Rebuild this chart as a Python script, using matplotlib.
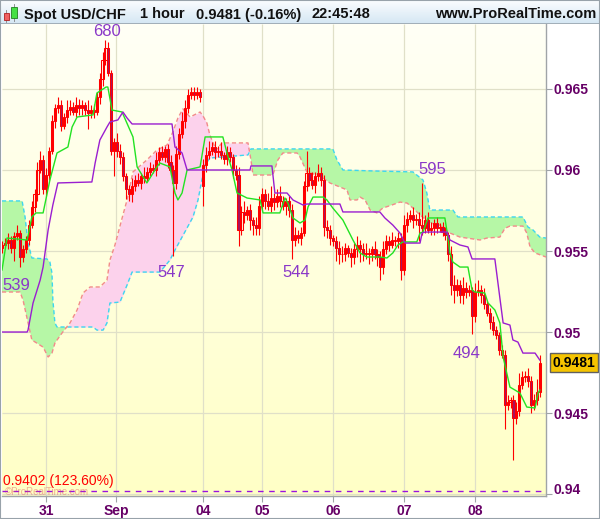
import numpy as np
import matplotlib
matplotlib.use("Agg")
import matplotlib.pyplot as plt
from matplotlib.patches import Rectangle
from matplotlib.colors import LinearSegmentedColormap
from matplotlib.transforms import ScaledTranslation

plt.rcParams['font.family'] = ['Liberation Sans', 'DejaVu Sans']

# ---------------- data (hourly bars, USD/CHF) ----------------
closes = [
    0.9554, 0.9555, 0.9557, 0.9552, 0.9559, 0.9561, 0.9546, 0.9551, 0.9557, 0.9566,
    0.9577, 0.9585, 0.9600, 0.9606, 0.9588, 0.9597, 0.9612, 0.9630, 0.9638, 0.9640,
    0.9627, 0.9633, 0.9637, 0.9639, 0.9636, 0.9640, 0.9638, 0.9640, 0.9637, 0.9635,
    0.9637, 0.9636, 0.9645, 0.9656, 0.9668, 0.9675, 0.9660, 0.9612, 0.9617, 0.9612,
    0.9608, 0.9596, 0.9588, 0.9585, 0.9590, 0.9594, 0.9592, 0.9596, 0.9595, 0.9599,
    0.9601, 0.9600, 0.9606, 0.9611, 0.9608, 0.9613, 0.9605, 0.9600, 0.9592, 0.9610,
    0.9622, 0.9630, 0.9638, 0.9646, 0.9648, 0.9646, 0.9648, 0.9645, 0.9603, 0.9609,
    0.9612, 0.9614, 0.9611, 0.9612, 0.9609, 0.9607, 0.9611, 0.9608, 0.9600, 0.9597,
    0.9563, 0.9574, 0.9572, 0.9575, 0.9569, 0.9566, 0.9564, 0.9578, 0.9585, 0.9581,
    0.9578, 0.9583, 0.9580, 0.9584, 0.9581, 0.9578, 0.9581, 0.9575, 0.9557, 0.9560,
    0.9558, 0.9561, 0.9590, 0.9598, 0.9594, 0.9591, 0.9596, 0.9598, 0.9594, 0.9565,
    0.9563, 0.9558, 0.9556, 0.9552, 0.9548, 0.9548, 0.9552, 0.9549, 0.9546, 0.9551,
    0.9554, 0.9551, 0.9548, 0.9549, 0.9548, 0.9551, 0.9548, 0.9546, 0.9540, 0.9551,
    0.9556, 0.9554, 0.9557, 0.9556, 0.9558, 0.9538, 0.9566, 0.9570, 0.9572, 0.9569,
    0.9570, 0.9566, 0.9564, 0.9569, 0.9563, 0.9564, 0.9567, 0.9564, 0.9565, 0.9562,
    0.9560, 0.9548, 0.9529, 0.9526, 0.9529, 0.9523, 0.9527, 0.9525, 0.9526, 0.9510,
    0.9525, 0.9526, 0.9523, 0.9517, 0.9512, 0.9506, 0.9501, 0.9498, 0.9489, 0.9486,
    0.9455, 0.9457, 0.9458, 0.9447, 0.9451, 0.9467, 0.9472, 0.9473, 0.9470, 0.9455,
    0.9458, 0.9463, 0.9481,
]
# opens equal the previous close except at these bars (session gaps)
gap_opens = {0: 0.9552, 68: 0.9590}
# wick lengths beyond the body, in pips (0.0001)
wick_up_pips = [
    2, 3, 4, 2, 3, 5, 2, 3, 2, 3,   4, 3, 5, 6, 3, 4, 2, 4, 3, 5,
    3, 2, 6, 4, 3, 5, 4, 3, 2, 6,   3, 4, 3, 4, 5, 5, 4, 2, 3, 6,
    4, 3, 2, 3, 5, 3, 4, 2, 6, 3,   4, 3, 5, 3, 4, 2, 3, 4, 3, 5,
    4, 6, 5, 4, 3, 3, 3, 2, 4, 5,   6, 3, 4, 3, 5, 2, 4, 3, 2, 3,
    5, 4, 7, 3, 4, 2, 5, 6, 4, 3,   5, 7, 3, 4, 6, 3, 2, 3, 4, 5,
    3, 4, 3, 14, 4, 5, 3, 6, 4, 3,  4, 3, 2, 3, 4, 5, 3, 2, 3, 4,
    5, 3, 4, 6, 3, 2, 5, 3, 4, 5,   4, 3, 5, 2, 4, 3, 6, 4, 3, 5,
    3, 4, 26, 3, 5, 4, 3, 4, 2, 3,  3, 2, 5, 6, 4, 3, 7, 4, 3, 2,
    5, 6, 3, 4, 2, 3, 4, 3, 2, 3,   3, 4, 2, 3, 6, 8, 4, 3, 5, 3,
    4, 8, 5,
]
wick_dn_pips = [
    3, 2, 4, 3, 8, 2, 6, 3, 2, 3,   2, 3, 4, 2, 3, 4, 3, 2, 4, 3,
    3, 2, 4, 3, 2, 3, 4, 4, 3, 10,  3, 4, 2, 4, 4, 3, 2, 3, 16, 4,
    4, 3, 6, 4, 5, 3, 2, 4, 3, 2,   3, 2, 4, 3, 2, 3, 4, 3, 45, 4,
    3, 2, 4, 3, 2, 3, 2, 3, 12, 4,  2, 3, 4, 3, 2, 3, 4, 3, 5, 3,
    10, 3, 5, 3, 6, 6, 4, 4, 3, 5,  3, 4, 5, 3, 4, 3, 6, 4, 12, 4,
    3, 4, 2, 3, 4, 3, 5, 3, 4, 6,   5, 4, 3, 8, 6, 5, 4, 3, 6, 4,
    5, 8, 4, 3, 6, 4, 3, 5, 8, 4,   3, 4, 2, 3, 4, 6, 3, 4, 2, 5,
    3, 10, 4, 3, 2, 3, 4, 3, 2, 3,  3, 4, 6, 8, 4, 5, 6, 4, 3, 11,
    4, 3, 5, 3, 2, 4, 3, 2, 3, 2,   15, 3, 4, 26, 4, 3, 2, 3, 4, 5,
    3, 3, 3,
]

# Ichimoku lines, read as (bar, price) breakpoints
tenkan_bar = [0, 1.7, 8.5, 10.1, 11.5, 13.9, 16.2, 18.6, 22.3, 23.7, 25.4, 30.8, 32.1, 35.2, 35.8,
              37.2, 40.6, 44.3, 45.7, 49.0, 52.4, 53.4, 56.8, 58.5, 59.5, 60.9, 62.6, 67.0, 68.7,
              74.7, 76.1, 77.8, 79.5, 82.9, 87.3, 88.3, 94.0, 95.7, 96.7, 98.4, 100.8, 102.5, 103.5,
              105.2, 108.6, 109.9, 111.9, 115.3, 118.7, 121.1, 123.4, 127.8, 130.2, 132.2, 133.9,
              135.6, 140.3, 141.4, 142.4, 144.1, 149.8, 150.8, 151.5, 152.5, 154.9, 157.6, 159.0,
              160.0, 163.3, 164.4, 166.7, 168.4, 169.5, 171.8, 173.5, 175.2, 177.5, 180.3, 181.3, 181.9]
tenkan_val = [0.95383, 0.9558, 0.95568, 0.9571, 0.95735, 0.95735, 0.95938, 0.96105, 0.96142, 0.96265,
              0.96327, 0.9634, 0.96475, 0.96512, 0.96512, 0.9637, 0.96358, 0.96204, 0.96019, 0.9592,
              0.96019, 0.96043, 0.96019, 0.95858, 0.95815, 0.95858, 0.96, 0.96019, 0.96204, 0.96204,
              0.96105, 0.96, 0.95858, 0.95827, 0.95815, 0.95735, 0.95735, 0.95827, 0.95796, 0.95704,
              0.95673, 0.95691, 0.95772, 0.95833, 0.95833, 0.95815, 0.95765, 0.95691, 0.95568, 0.95488,
              0.95463, 0.95463, 0.95457, 0.95488, 0.95537, 0.95556, 0.95556, 0.95611, 0.95617, 0.95704,
              0.95704, 0.95586, 0.95488, 0.95432, 0.95401, 0.95401, 0.95259, 0.95247, 0.95241, 0.95179,
              0.95136, 0.95056, 0.94846, 0.9466, 0.94642, 0.94623, 0.94537, 0.94531, 0.94623, 0.94642]

kijun_bar = [0, 8.5, 8.8, 10.5, 12.9, 13.9, 15.6, 17.2, 18.9, 30.4, 31.5, 33.1, 35.5, 36.5, 39.2, 40.9,
             42.3, 44.0, 57.5, 58.5, 60.9, 62.6, 83.9, 84.2, 91.3, 92.3, 96.4, 98.4, 101.8, 103.1,
             114.3, 115.3, 127.8, 129.5, 132.2, 134.6, 136.3, 141.4, 142.1, 143.1, 150.5, 151.5,
             154.9, 157.6, 159.0, 166.7, 168.4, 169.5, 171.8, 172.8, 174.5, 176.2, 180.3, 181.9]
kijun_val = [0.95, 0.95, 0.95012, 0.95179, 0.9532, 0.95401, 0.9563, 0.95784, 0.9592, 0.95926, 0.96043,
             0.96185, 0.96265, 0.96296, 0.96309, 0.96358, 0.96321, 0.96284, 0.96284, 0.96142, 0.96105,
             0.96, 0.96, 0.96025, 0.96025, 0.95858, 0.95858, 0.95815, 0.95784, 0.9579, 0.9579, 0.95741,
             0.95741, 0.95704, 0.9566, 0.95611, 0.95549, 0.95549, 0.95611, 0.95617, 0.95617, 0.95568,
             0.95537, 0.95525, 0.95451, 0.95451, 0.9521, 0.95056, 0.95043, 0.94951, 0.94938, 0.9487,
             0.9487, 0.94827]

span_a_bar = [0, 6.8, 7.8, 8.8, 10.1, 15.2, 16.2, 16.9, 17.2, 17.9, 18.6, 30.8, 32.1, 34.2, 35.5, 36.5,
              39.9, 42.3, 44.0, 53.4, 56.8, 58.5, 60.9, 64.6, 66.3, 67.6, 68.7, 70.3, 83.2, 84.2, 111.9,
              113.3, 115.3, 125.5, 139.0, 142.4, 143.7, 144.7, 152.5, 154.2, 176.2, 177.9, 179.6, 181.9, 184]
span_a_val = [0.95809, 0.95809, 0.9571, 0.95549, 0.95457, 0.95451, 0.95432, 0.95364, 0.95198, 0.95056,
              0.95031, 0.95031, 0.95012, 0.95012, 0.95056, 0.95179, 0.95185, 0.9529, 0.9537, 0.9537,
              0.95444, 0.95506, 0.95586, 0.9571, 0.95815, 0.95938, 0.96031, 0.96074, 0.96093, 0.9613,
              0.9613, 0.96062, 0.96, 0.95994, 0.95988, 0.95938, 0.95858, 0.95753, 0.95753, 0.9571,
              0.9571, 0.95648, 0.9563, 0.95586, 0.9558]

span_b_bar = [0, 6.1, 7.1, 10.1, 13.9, 15.6, 16.9, 17.9, 20.3, 23.0, 25.4, 27.4, 29.8, 33.1, 35.5, 36.5,
              38.2, 40.9, 42.3, 44.3, 49.0, 52.4, 55.8, 57.8, 59.5, 61.2, 63.6, 67.0, 68.0, 69.3, 70.3,
              72.4, 74.4, 83.2, 84.2, 84.9, 91.6, 93.3, 95.0, 99.8, 100.8, 103.1, 106.5, 108.6, 110.9,
              114.3, 116.7, 117.7, 120.1, 121.1, 122.8, 124.5, 126.8, 128.8, 131.9, 134.6, 137.0, 139.0,
              141.4, 144.7, 148.1, 151.5, 154.9, 161.7, 164.0, 168.4, 170.1, 171.8, 176.2, 177.5, 178.6,
              180.3, 184]
span_b_val = [0.95247, 0.95247, 0.95198, 0.94951, 0.94907, 0.94846, 0.9487, 0.94932, 0.94994, 0.95056,
              0.95136, 0.95241, 0.95278, 0.95278, 0.9532, 0.95444, 0.95537, 0.95722, 0.95815, 0.95988,
              0.96062, 0.96123, 0.96154, 0.96235, 0.96321, 0.96377, 0.96327, 0.96358, 0.96333, 0.9629,
              0.96216, 0.96123, 0.96167, 0.96167, 0.96062, 0.95969, 0.95969, 0.96062, 0.96105, 0.96105,
              0.9608, 0.95988, 0.95969, 0.95951, 0.9592, 0.95895, 0.95877, 0.95815, 0.95815, 0.95833,
              0.95815, 0.95753, 0.95735, 0.95765, 0.95784, 0.95802, 0.95796, 0.95765, 0.95722, 0.95673,
              0.9566, 0.95611, 0.95586, 0.95568, 0.9558, 0.95586, 0.9564, 0.95654, 0.95654, 0.95611,
              0.95525, 0.95488, 0.95463]

extreme_labels = ["680", "539", "547", "544", "595", "494"]
extreme_bar = [35.5, 4.7, 57.2, 99.4, 145.4, 157.3]
extreme_price = [0.96852, 0.9529, 0.9537, 0.9537, 0.9600, 0.9487]

day_bars = [14.9, 38.6, 68.0, 87.9, 111.9, 136.0, 160.0]
day_labels = ["31", "Sep", "04", "05", "06", "07", "08"]
price_ticks = [0.94, 0.945, 0.95, 0.955, 0.96, 0.965]
price_labels = ["0.94", "0.945", "0.95", "0.955", "0.96", "0.965"]
level_price = 0.9402
level_text = "0.9402 (123.60%)"
last_price = 0.9481
title_parts = [("Spot USD/CHF", 24), ("1 hour", 140), ("0.9481 (-0.16%)", 196), ("22:45:48", 312)]

# ---------------- derived OHLC ----------------
n = len(closes)
opens = [gap_opens.get(i, closes[i - 1] if i > 0 else closes[0]) for i in range(n)]
highs = [max(o, c) + u * 1e-4 for o, c, u in zip(opens, closes, wick_up_pips)]
lows = [min(o, c) - d * 1e-4 for o, c, d in zip(opens, closes, wick_dn_pips)]

# ---------------- figure ----------------
W, H = 600, 519
fig = plt.figure(figsize=(W / 100, H / 100), dpi=100)
fig.patch.set_facecolor("white")

L, R, T, B = 2, 546, 24, 496
X0, X1 = 0, 184
Y0, Y1 = 0.93988, 0.96901
ax = fig.add_axes([L / W, (H - B) / H, (R - L) / W, (B - T) / H])
ax.set_xlim(X0, X1)
ax.set_ylim(Y0, Y1)

bg = LinearSegmentedColormap.from_list("bg", ["#fffff6", "#ffffc6"])
ax.imshow(np.linspace(0, 1, 256).reshape(-1, 1), cmap=bg, extent=[X0, X1, Y0, Y1],
          origin="upper", aspect="auto", zorder=0)

grid_c = "#e0e0c8"
ax.hlines(price_ticks, X0, X1, color=grid_c, lw=0.9, zorder=1)
ax.vlines(day_bars, Y0, Y1, color=grid_c, lw=0.9, zorder=1)

# cloud
xs = np.linspace(X0, X1, 3000)
sa = np.interp(xs, span_a_bar, span_a_val)
sb = np.interp(xs, span_b_bar, span_b_val)
ax.fill_between(xs, sa, sb, where=sa >= sb, interpolate=True, color="#b6f7a6", lw=0, zorder=2)
ax.fill_between(xs, sa, sb, where=sa < sb, interpolate=True, color="#fcd2ec", lw=0, zorder=2)
ax.plot(span_a_bar, span_a_val, color="#3cd6f0", lw=1.0, ls=(0, (3, 2)), zorder=3)
ax.plot(span_b_bar, span_b_val, color="#f28a8a", lw=1.0, ls=(0, (3, 2)), zorder=3)

# candles
red = "#ff0000"
xi = np.arange(n)
ax.vlines(xi, lows, highs, color=red, lw=0.8, zorder=4)
for i in range(n):
    o, c = opens[i], closes[i]
    h = max(abs(c - o), 0.00003)
    fc = "#a8125e" if c < o else "none"
    ax.add_patch(Rectangle((i - 0.36, min(o, c)), 0.72, h, facecolor=fc, edgecolor=red,
                           lw=0.75, zorder=5))

ax.plot(tenkan_bar, tenkan_val, color="#22e222", lw=1.0, zorder=6)
ax.plot(kijun_bar, kijun_val, color="#9a1ed0", lw=1.0, zorder=6)

ax.axhline(level_price, color="#9a10e0", lw=1.0, ls=(0, (4, 4)), zorder=6)
ax.text(0.2, 0.94080, level_text, color="#ff0000", fontsize=10, ha="left", va="center", zorder=7)
ax.text(1.0, 0.94012, "\u00a9ProRealTime.com", color="#e05050", alpha=0.45, fontsize=7,
        ha="left", va="center", zorder=7)

for t, xb, yp in zip(extreme_labels, extreme_bar, extreme_price):
    ax.text(xb, yp, t, color="#8a38c8", fontsize=12, ha="center", va="center", zorder=7)

# axes styling
for s in ["left", "top"]:
    ax.spines[s].set_visible(False)
for s in ["right", "bottom"]:
    ax.spines[s].set_color("#a0a4a8")
    ax.spines[s].set_linewidth(1.0)
ax.yaxis.tick_right()
ax.set_yticks(price_ticks)
ax.set_yticklabels(price_labels)
ax.set_xticks(day_bars)
ax.set_xticklabels(day_labels)
ax.tick_params(axis="y", length=4, width=0.8, color="#a0a4a8", pad=1.5,
               labelsize=10, labelcolor="#660066")
ax.tick_params(axis="x", length=4, width=0.8, color="#a0a4a8", pad=2,
               labelsize=10, labelcolor="#660066")
for lbl in ax.get_yticklabels() + ax.get_xticklabels():
    lbl.set_fontweight("bold")
ylbls = ax.get_yticklabels()
ylbls[0].set_transform(ylbls[0].get_transform() + ScaledTranslation(0, 6 / 100, fig.dpi_scale_trans))

# last price box
ax.annotate(f"{last_price:.4f}", xy=(1, last_price), xycoords=("axes fraction", "data"),
            xytext=(28, 0), textcoords="offset pixels", ha="center", va="center",
            fontsize=10, fontweight="bold", color="black", annotation_clip=False,
            bbox=dict(boxstyle="square,pad=0.17", fc="#f5c400", ec="#606060", lw=1.0))

# title bar
tax = fig.add_axes([0, (H - 24) / H, 1, 24 / H])
tax.set_xlim(0, W)
tax.set_ylim(24, 0)
tax.axis("off")
tb = LinearSegmentedColormap.from_list("tb", ["#fbfdff", "#d4e6f3"])
tax.imshow(np.linspace(0, 1, 64).reshape(-1, 1), cmap=tb, extent=[0, W, 24, 0],
           origin="upper", aspect="auto", zorder=0)
tax.axhline(23.5, color="#98a4ae", lw=1.2, zorder=1)
tax.add_patch(Rectangle((3.5, 12.5), 5, 7, fc="#f06060", ec="#b02020", lw=0.6, zorder=2))
tax.plot([6, 6], [10, 22], color="#808080", lw=0.6, zorder=1)
tax.add_patch(Rectangle((11, 7), 6, 11, fc="#44e044", ec="#208020", lw=0.6, zorder=2))
tax.plot([14, 14], [4, 21], color="#808080", lw=0.6, zorder=1)
for txt, xp in title_parts:
    tax.text(xp, 18.5, txt, fontsize=10.5, fontweight="bold", color="#111111",
             ha="left", va="baseline", zorder=3)
tax.text(596, 18.5, "www.ProRealTime.com", fontsize=10.5, fontweight="bold", color="#111111",
         ha="right", va="baseline", zorder=3)

fig.add_artist(Rectangle((0, 0), 1, 1, transform=fig.transFigure, fill=False,
                         ec="#98a2aa", lw=1.5))

fig.savefig("out.png", dpi=100)
